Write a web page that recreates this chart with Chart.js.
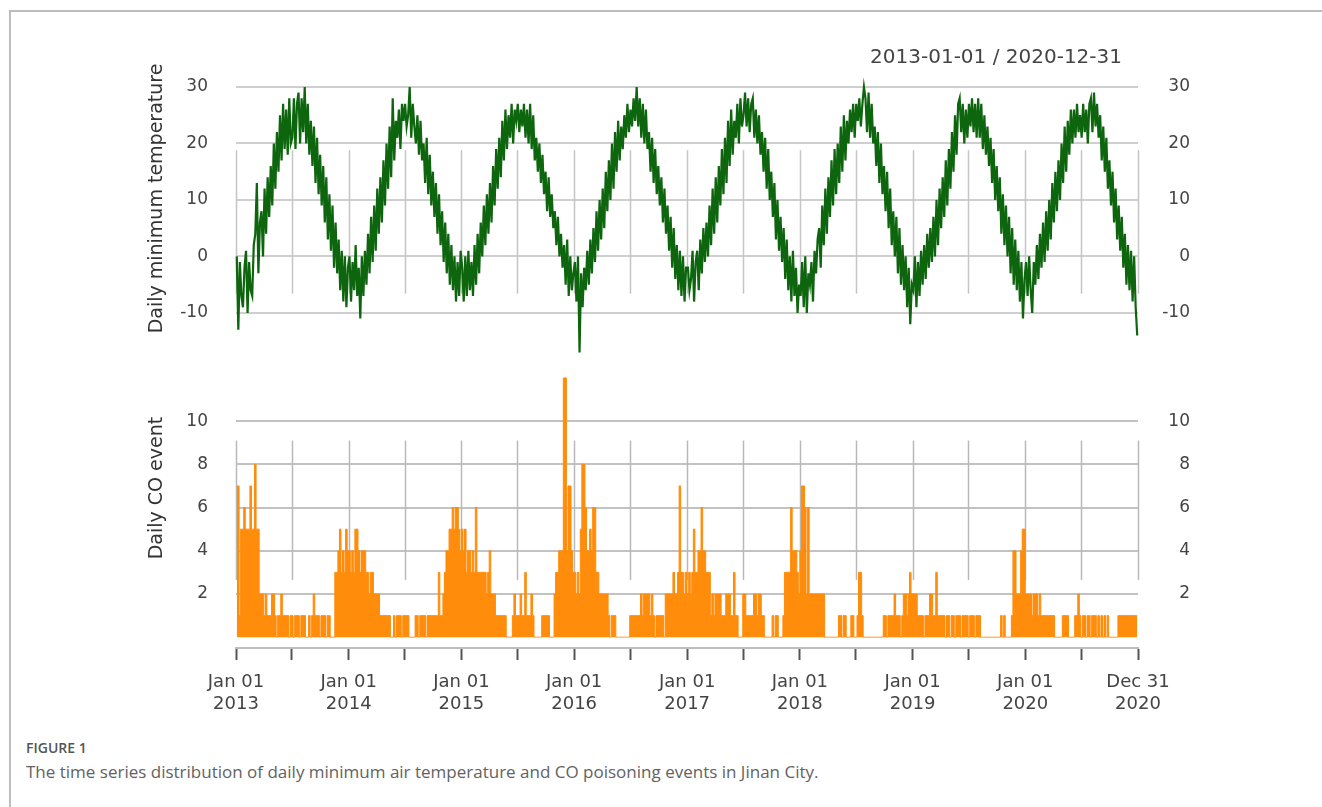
<!DOCTYPE html>
<html>
<head>
<meta charset="utf-8">
<script src="https://cdn.jsdelivr.net/npm/chart.js@4.4.1/dist/chart.umd.min.js"></script>
<style>
  html, body { margin: 0; padding: 0; background: #fff; }
  #page { position: relative; width: 1322px; height: 807px; overflow: hidden; background: #fff; }
  #frame { position: absolute; left: 9px; top: 10px; right: -10px; bottom: -10px;
           border-left: 2px solid #bdbdbd; border-top: 2px solid #bdbdbd; }
  canvas { position: absolute; left: 0; }
  #tempChart { top: 0; }
  #coChart { top: 290px; }
  #figLabel { position: absolute; left: 26px; top: 739px; font: 600 14px/18px "Open Sans", sans-serif; color: #555; }
  #figCaption { position: absolute; left: 26px; top: 761px; font: 400 17px/22px "Open Sans", sans-serif; color: #626262; white-space: nowrap; }
</style>
</head>
<body>
<div id="page">
  <div id="frame"></div>
  <canvas id="tempChart" width="1322" height="370"></canvas>
  <canvas id="coChart" width="1322" height="440"></canvas>
  <div id="figLabel">FIGURE 1</div>
  <div id="figCaption">The time series distribution of daily minimum air temperature and CO poisoning events in Jinan City.</div>
</div>
<script>
// years shown, each year is split in 73 five-day steps
const years = [2013, 2014, 2015, 2016, 2017, 2018, 2019, 2020];

// daily minimum temperature (one value per 5 days)
const tmin2013 = [0,-13,-1,-7,-9,-2, 1,-10,-1,-6,-7,2, 4,13,-3,6,8,0, 12,4,14,7,16,9, 20,12,22,15,25,17,
  27,19,26,18,28,20, 21,28,19,27,29,20, 28,22,30,20,27,18, 24,16,23,13,21,11, 18,9,16,6,14,3,
  11,1,9,-2,6,-3, 3,-6,1,-8,0,-9,-2];
const tmin2014 = [0,-8,-1,-6,2,-7, -2,-11,0,-7,1,-5, 4,-3,7,-1,9,1, 12,4,14,6,17,9, 20,12,23,14,28,17,
  24,21,26,19,27,24, 27,23,25,30,21,27, 23,20,25,18,24,17, 20,13,21,11,18,9, 15,7,13,4,11,2,
  8,-1,6,-3,4,-5, 2,-6,0,-8,-1,-7,1];
const tmin2015 = [-2,-8,0,-7,1,-6, -1,-7,2,-5,4,-3, 6,0,9,2,11,4, 13,6,16,9,19,12, 21,14,24,17,26,19,
  25,21,27,20,26,24, 27,22,26,23,27,21, 26,20,27,19,25,17, 21,15,20,13,18,11, 15,8,14,7,11,5,
  8,2,7,0,4,-2, 2,-5,3,-7,0,-6,-3];
const tmin2016 = [-1,-8,0,-17,-3,-9, -2,-6,1,-5,3,-3, 5,-1,8,1,10,3, 12,5,15,8,17,10, 20,12,22,15,24,17,
  23,19,25,21,27,22, 26,23,28,24,30,23, 28,21,27,20,26,19, 22,15,21,13,19,11, 16,9,14,6,12,4,
  9,1,7,-2,5,-4, 2,-6,1,-7,0,-8,-2];
const tmin2017 = [-2,-6,-4,1,-8,-1, 1,-6,3,-3,5,-1, 6,0,9,2,12,4, 14,6,16,9,19,11, 21,13,24,16,26,18,
  24,21,27,20,28,23, 25,29,23,28,22,27, 28,21,26,20,25,18, 22,15,21,12,19,10, 15,7,13,3,10,1,
  7,-1,5,-4,3,-6, 0,-8,1,-7,-2,-10,-5];
const tmin2018 = [-7,-1,-9,0,-10,-3, -5,-1,-8,1,-3,3, 5,-2,9,2,12,4, 14,7,17,9,19,11, 20,13,23,15,25,17,
  24,20,26,22,27,21, 27,24,28,23,27,30, 28,22,29,21,27,20, 23,16,22,13,20,11, 16,8,15,5,12,2,
  8,0,7,-3,5,-5, 2,-6,0,-9,-2,-12,-5];
const tmin2019 = [-6,0,-9,-1,-7,1, -5,2,-4,4,-2,5, -1,7,0,10,2,12, 5,14,7,17,9,19, 12,22,15,25,18,27,
  28,22,27,20,26,21, 27,23,28,22,27,21, 28,21,27,19,25,18, 23,16,21,13,19,10, 16,8,14,4,11,2,
  9,0,7,-3,5,-5, 3,-6,1,-8,-1,-11,-4];
const tmin2020 = [-1,-7,0,-6,-10,-1, -5,2,-4,4,-2,6, -1,8,1,10,3,13, 6,15,8,17,10,20, 13,23,15,24,18,26,
  20,26,21,27,22,25, 21,27,22,26,20,27, 28,22,29,23,27,21, 25,17,23,15,21,12, 17,9,15,6,12,3,
  9,1,7,-2,4,-5, 2,-6,1,-8,0,-9,-14];

// daily CO poisoning events (one value per 5 days)
const co2013 = [7,7,1,5,5,6,5,5,5,7,5,5,8,5,5,2,2,2, 1,2,1,1,1,2,2,1,0,1,1,2,1,1,1,1, 0,
  1,1,0,1,1,1,0,1,1,1,0, 0,1,0,1, 2,1,1, 1,0,1,1,1,0,1,1, 0,0,0, 3,3,4,5,3,4,3,5,4];
const co2014 = [4,3,4,3,5,5,4,3,4,4,4,3,3,2,3,3,2,2,2,2,
  1,1,1,1,1,1,1,0,0,1,0,1,1,1,0,1,1,1,1,0,0,0,0,1,1,0,1,1,1,1,0,1,1,1,
  1,1,1,1,3,1,1, 2,3,4,4,5,5,6,5,6,6,5,4];
const co2015 = [5,4,5,3,4,4,3,4,3,6,3,3,3,3,3,3,2,3,4,2,2,2, 1,1,1,1,1,1,1, 0,0,0,0,
  1,2,1,1,1,2,1,1,3,1,1,1,2,1, 0,0,0,0,0, 1,1,1,1,1, 0,0,0, 2,3,3,4,4,4,12,12,4,7,7,4,3];
const co2016 = [3,2,3,2,5,8,8,6,4,4,5,4,6,6,3,3,2,2,2,2,2,2,1, 0,1,1,1, 0,0,0,0,0,0,0,0,0,
  1,1,1,1,1,1,1, 2,1,2,2,2,2,1,2,1, 0,1,1,1,1,1,0, 2,2,2,2,2,3,2,2,3,7,3,3,2,3];
const co2017 = [2,3,2,3,5,3,3,4,4,6,4,4,3,3,3, 1,2,1,2,2,2,2,1,1,1,2,2,2,1,1,3,1,1, 0,0,0,
  2,2,1,1,1,1,1,2,2,1,2,2,1,1, 0,0,0,0,0, 1,0,1,1,0,0,0, 1,3,3,3,3,6,4,4,4,3,2];
const co2018 = [4,7,7,6,2,6,2,2,2,2,2,2,2,2,2,2, 0,0,0,0,0,0,0,0,0, 1,1,0,1,1, 0,0,0, 1,1,0,0, 1,3,3,1,
  0,0,0,0,0,0,0,0,0,0,0,0,0, 1,1,0,1,1,1,1,2,1,1,1,0,1,2,2,1,2,3,2];
const co2019 = [2,2,2,1,1,1,1,0,1,1,1,2,2,1,1,3,1,1,1,1,1,
  0,1,1,0,1,1,0,1,1,1,0,1,1,1,1,0,1,1,1,0,1,1,1,
  0,0,0,0,0,0,0,0,0,0,0,0,0, 1,0,1,0,0,0,0, 1,4,4,2,2,2,4,5,5];
const co2020 = [2,2,2,2,1,2,2,2,1,2,1,1,1,1,1,1,1,1,1, 0,0,0,0,0, 1,1,1,1, 0,0,0,0, 1,1,2,1,
  0,1,1,0,1,1,0,1,1,1,0, 1,0,1,0,1,0,1, 0,0,0,0,0,0, 1,1,1,1,1,1,1,1,1,1,1,1,1];

const tminByYear = [tmin2013, tmin2014, tmin2015, tmin2016, tmin2017, tmin2018, tmin2019, tmin2020];
const coByYear = [co2013, co2014, co2015, co2016, co2017, co2018, co2019, co2020];

// axis ticks
const tempTicks = [-10, 0, 10, 20, 30];
const coTicks = [2, 4, 6, 8, 10];
const tickDates = ['2013-01-01', '2013-07-01', '2014-01-01', '2014-07-01', '2015-01-01', '2015-07-01',
  '2016-01-01', '2016-07-01', '2017-01-01', '2017-07-01', '2018-01-01', '2018-07-01',
  '2019-01-01', '2019-07-01', '2020-01-01', '2020-07-01', '2020-12-31'];
const tickLabels = [['Jan 01', '2013'], '', ['Jan 01', '2014'], '', ['Jan 01', '2015'], '',
  ['Jan 01', '2016'], '', ['Jan 01', '2017'], '', ['Jan 01', '2018'], '',
  ['Jan 01', '2019'], '', ['Jan 01', '2020'], '', ['Dec 31', '2020']];
const rangeText = '2013-01-01 / 2020-12-31';

const startUTC = Date.UTC(2013, 0, 1);
function dayIndex(s) {
  const [y, m, d] = s.split('-').map(Number);
  return (Date.UTC(y, m - 1, d) - startUTC) / 86400000;
}
const tickDays = tickDates.map(dayIndex);
const endDay = dayIndex('2020-12-31');

function buildSeries(byYear) {
  const pts = [];
  years.forEach((yr, k) => {
    const y0 = dayIndex(yr + '-01-01');
    byYear[k].forEach((v, i) => pts.push({ x: y0 + i * 5 + 2.5, y: v }));
  });
  return pts;
}

const FONT = 'DejaVu Sans';

// short vertical grid lines at every half year
const halfYearGrid = {
  id: 'halfYearGrid',
  beforeDatasetsDraw(chart, args, opts) {
    const { ctx, scales } = chart;
    const top = scales.y.getPixelForValue(opts.from);
    const bottom = scales.y.getPixelForValue(opts.to);
    ctx.save();
    ctx.strokeStyle = opts.color;
    ctx.lineWidth = opts.width;
    tickDays.forEach(d => {
      const px = Math.round(scales.x.getPixelForValue(d)) + 0.5;
      ctx.beginPath();
      ctx.moveTo(px, top);
      ctx.lineTo(px, bottom);
      ctx.stroke();
    });
    ctx.restore();
  }
};

const rangeLabel = {
  id: 'rangeLabel',
  afterDraw(chart, args, opts) {
    const { ctx, chartArea } = chart;
    ctx.save();
    ctx.font = '20px "' + FONT + '"';
    ctx.fillStyle = '#444';
    ctx.textAlign = 'right';
    ctx.textBaseline = 'middle';
    ctx.fillText(opts.text, chartArea.right - 16, 58);
    ctx.restore();
  }
};

function leftAxis(min, max, vals, title, gridColor) {
  return {
    position: 'left', min: min, max: max,
    afterBuildTicks: s => { s.ticks = vals.map(v => ({ value: v })); },
    afterFit: s => { s.width = 236; },
    grid: { color: gridColor, lineWidth: 2, drawTicks: false },
    border: { display: false },
    ticks: { padding: 28, color: '#444', font: { family: FONT, size: 17 } },
    title: { display: true, text: title, color: '#333', font: { family: FONT, size: 19 },
             padding: { top: 146, bottom: 0 } }
  };
}

function rightAxis(min, max, vals) {
  return {
    position: 'right', min: min, max: max,
    afterBuildTicks: s => { s.ticks = vals.map(v => ({ value: v })); },
    afterFit: s => { s.width = 52; },
    grid: { display: false },
    border: { display: false },
    ticks: { crossAlign: 'far', color: '#444', font: { family: FONT, size: 17 } }
  };
}

new Chart(document.getElementById('tempChart'), {
  type: 'line',
  data: {
    datasets: [{
      data: buildSeries(tminByYear),
      borderColor: '#0d660d',
      borderWidth: 2.2,
      pointRadius: 0,
      tension: 0,
      clip: false
    }]
  },
  options: {
    responsive: false,
    animation: false,
    events: [],
    layout: { padding: { left: 0, right: 132, top: 70, bottom: 43 } },
    plugins: {
      legend: { display: false },
      tooltip: { enabled: false },
      halfYearGrid: { from: 18.8, to: -6.6, color: '#c4c4c4', width: 1.5 },
      rangeLabel: { text: rangeText }
    },
    scales: {
      x: { type: 'linear', display: false, min: 0, max: endDay },
      y: leftAxis(-12.5, 33, tempTicks, 'Daily minimum temperature', '#cfcfcf'),
      y2: rightAxis(-12.5, 33, tempTicks)
    }
  },
  plugins: [halfYearGrid, rangeLabel]
});

new Chart(document.getElementById('coChart'), {
  type: 'line',
  data: {
    datasets: [{
      data: buildSeries(coByYear),
      borderColor: '#ff8c0a',
      backgroundColor: '#ff8c0a',
      borderWidth: 1,
      pointRadius: 0,
      stepped: 'middle',
      fill: 'origin',
      clip: false
    }]
  },
  options: {
    responsive: false,
    animation: false,
    events: [],
    layout: { padding: { left: 0, right: 132, top: 25, bottom: 12 } },
    plugins: {
      legend: { display: false },
      tooltip: { enabled: false },
      halfYearGrid: { from: 9.1, to: 2.65, color: '#b8b8b8', width: 1.5 }
    },
    scales: {
      x: {
        type: 'linear', position: 'bottom', min: 0, max: endDay,
        afterBuildTicks: s => { s.ticks = tickDays.map(v => ({ value: v })); },
        afterFit: s => { s.height = 70; },
        grid: { drawOnChartArea: false, drawTicks: true, tickLength: 12, tickColor: '#555', tickWidth: 2 },
        border: { display: true, color: '#bdbdbd', width: 2 },
        ticks: {
          autoSkip: false, maxRotation: 0, padding: 11, color: '#444',
          font: { family: FONT, size: 18, lineHeight: 1.25 },
          callback: (v, i) => tickLabels[i]
        }
      },
      y: leftAxis(-0.5, 14.3, coTicks, 'Daily CO event', '#c2c2c2'),
      y2: rightAxis(-0.5, 14.3, coTicks)
    }
  },
  plugins: [halfYearGrid]
});
</script>
</body>
</html>
